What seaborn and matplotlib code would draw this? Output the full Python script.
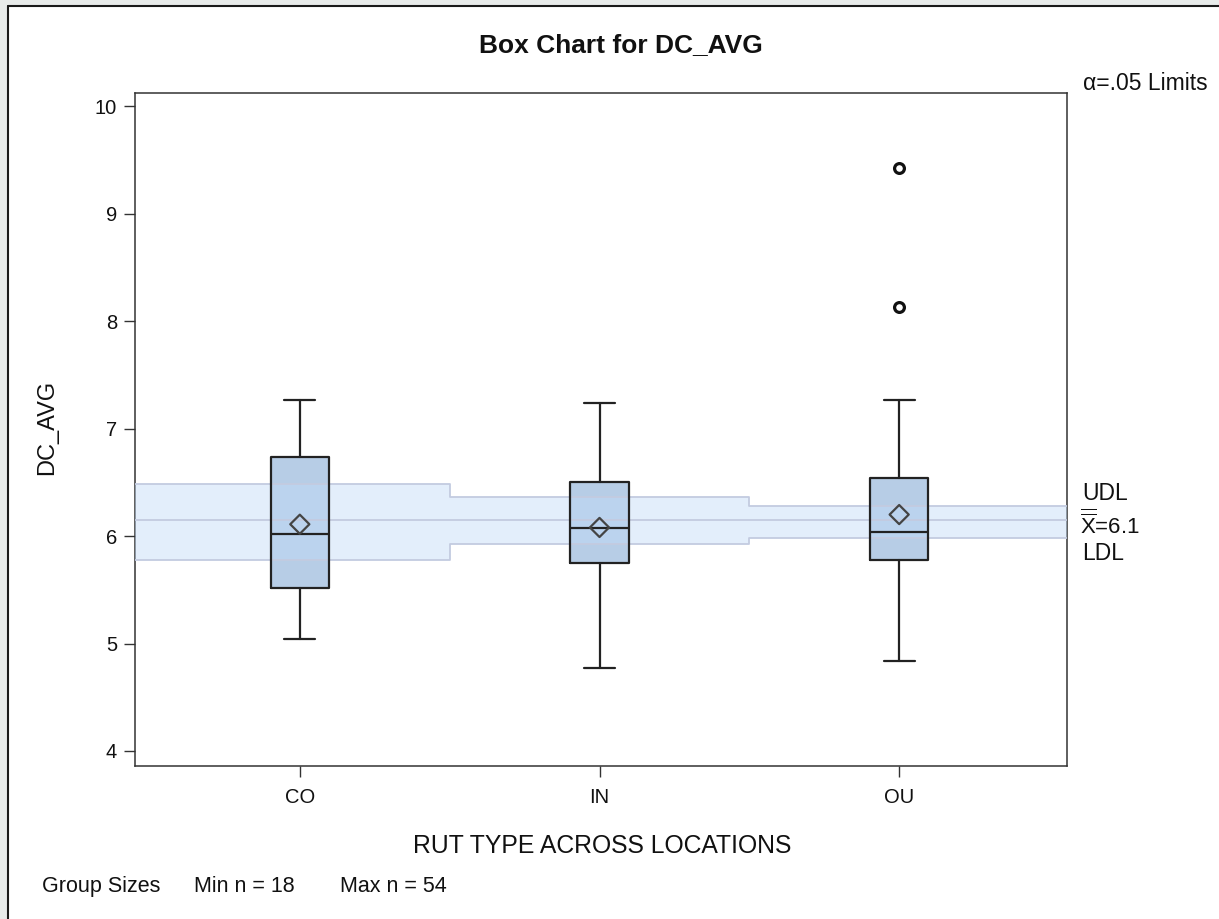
import numpy as np
import matplotlib
matplotlib.use("Agg")
import matplotlib.pyplot as plt
import seaborn as sns
from matplotlib.patches import Rectangle
from matplotlib.lines import Line2D

# ---------------- data ----------------
categories = ["CO", "IN", "OU"]
q1 = [5.52, 5.75, 5.78]
medians = [6.02, 6.075, 6.035]
q3 = [6.74, 6.50, 6.54]
whisker_low = [5.04, 4.77, 4.84]
whisker_high = [7.27, 7.24, 7.27]
means = [6.11, 6.08, 6.20]
outlier_group = [2, 2]          # index into categories (OU)
outlier_values = [9.43, 8.13]
center_line = 6.145
udl = [6.48, 6.36, 6.28]
ldl = [5.78, 5.93, 5.985]
yticks = [4, 5, 6, 7, 8, 9, 10]
min_n, max_n = 18, 54

# ---------------- style ----------------
sns.set_theme(style="white")
plt.rcParams["font.family"] = ["Liberation Sans", "DejaVu Sans"]
plt.rcParams["mathtext.fontset"] = "custom"
plt.rcParams["mathtext.rm"] = "Liberation Sans"
plt.rcParams["mathtext.it"] = "Liberation Sans"
plt.rcParams["mathtext.bf"] = "Liberation Sans:bold"

W, H = 1219, 919
fig = plt.figure(figsize=(W / 100, H / 100), dpi=100)
fig.patch.set_facecolor("white")

def fx(px):
    return px / W

def fy(py):
    return 1 - py / H

# window-like border (left / top)
fig.add_artist(Rectangle((0, 0), fx(7), 1, transform=fig.transFigure, color="#e8ebea", lw=0, zorder=0))
fig.add_artist(Rectangle((0, fy(5)), 1, 5 / H, transform=fig.transFigure, color="#e8ebea", lw=0, zorder=0))
fig.add_artist(Line2D([fx(8), fx(8)], [0, fy(6)], transform=fig.transFigure, color="#1a1a1a", lw=1.5))
fig.add_artist(Line2D([fx(8), 1], [fy(6), fy(6)], transform=fig.transFigure, color="#1a1a1a", lw=1.5))

ax_l, ax_r, ax_t, ax_b = 135, 1067, 92.5, 766
ax = fig.add_axes([fx(ax_l), fy(ax_b), (ax_r - ax_l) / W, (ax_b - ax_t) / H])

pos = np.arange(len(categories))
x_lo, x_hi = -0.55, 2.56
ax.set_xlim(x_lo, x_hi)
ax.set_ylim(3.86, 10.128)

stats = [dict(med=m, q1=a, q3=b, whislo=lo, whishi=hi, fliers=[], label=c)
         for c, m, a, b, lo, hi in zip(categories, medians, q1, q3, whisker_low, whisker_high)]

# box fill (below band)
ax.bxp(stats, positions=pos, widths=0.194, capwidths=0.104, patch_artist=True,
       showfliers=False, showcaps=False,
       boxprops=dict(facecolor="#b7cde6", edgecolor="none", linewidth=0),
       whiskerprops=dict(linewidth=0), medianprops=dict(linewidth=0),
       manage_ticks=False, zorder=2)

# decision limit band
x_band = np.concatenate([[x_lo], pos, [x_hi]])
udl_ext = [udl[0]] + udl + [udl[-1]]
ldl_ext = [ldl[0]] + ldl + [ldl[-1]]
ax.fill_between(x_band, ldl_ext, udl_ext, step="mid", color="#c1dbf8", alpha=0.45, lw=0, zorder=3)
ax.step(x_band, udl_ext, where="mid", color="#c3cbe0", lw=1.3, zorder=3)
ax.step(x_band, ldl_ext, where="mid", color="#c3cbe0", lw=1.3, zorder=3)
ax.axhline(center_line, color="#c3cbe0", lw=1.3, zorder=3)

# box outlines, whiskers, medians (above band)
lc = "#222222"
ax.bxp(stats, positions=pos, widths=0.194, capwidths=0.104, patch_artist=False,
       showfliers=False,
       boxprops=dict(color=lc, linewidth=1.6),
       whiskerprops=dict(color=lc, linewidth=1.6),
       capprops=dict(color=lc, linewidth=1.6),
       medianprops=dict(color=lc, linewidth=1.6),
       manage_ticks=False, zorder=4)

# means (diamonds)
sns.scatterplot(x=pos, y=means, marker="D", s=95, ax=ax, zorder=5, legend=False)
ax.collections[-1].set_facecolor("none")
ax.collections[-1].set_edgecolor("#444444")
ax.collections[-1].set_linewidth(1.6)

# outliers
sns.scatterplot(x=outlier_group, y=outlier_values, marker="o", s=50, ax=ax, zorder=5, legend=False)
ax.collections[-1].set_facecolor("white")
ax.collections[-1].set_edgecolor("#111111")
ax.collections[-1].set_linewidth(2.3)

# axes styling
ax.set_xticks(pos)
ax.set_xticklabels(categories)
ax.set_yticks(yticks)
ax.set_yticklabels([str(v) for v in yticks])
ax.set_xlabel("")
ax.set_ylabel("")
for s in ax.spines.values():
    s.set_color("#333333")
    s.set_linewidth(1.1)
ax.tick_params(axis="both", which="major", bottom=True, left=True, top=False, right=False,
               direction="out", length=8, width=1.0, color="#333333",
               labelsize=14.5, labelcolor="#111111")
ax.tick_params(axis="x", pad=8)
ax.tick_params(axis="y", pad=5)
ax.grid(False)

# texts
tc = "#111111"
fig.text(fx(621), fy(45), "Box Chart for DC_AVG", ha="center", va="center",
         fontsize=19, fontweight="bold", color=tc)
fig.text(fx(47), fy(427), "DC_AVG", rotation=90, ha="center", va="center", fontsize=17, color=tc)
fig.text(fx(602), fy(846), "RUT TYPE ACROSS LOCATIONS", ha="center", va="center", fontsize=17.8, color=tc)
fig.text(fx(42), fy(892), "Group Sizes", ha="left", va="baseline", fontsize=15.5, color=tc)
fig.text(fx(194), fy(892), f"Min n = {min_n}", ha="left", va="baseline", fontsize=15.5, color=tc)
fig.text(fx(340), fy(892), f"Max n = {max_n}", ha="left", va="baseline", fontsize=15.5, color=tc)
fig.text(fx(1083), fy(83), "α=.05 Limits", ha="left", va="center", fontsize=16.5, color=tc)
fig.text(fx(1082), fy(494), "UDL", ha="left", va="center", fontsize=16.5, color=tc)
fig.text(fx(1080), fy(524), r"$\overline{\overline{\mathrm{X}}}$=6.1", ha="left", va="center",
         fontsize=16, color=tc)
fig.text(fx(1082), fy(553), "LDL", ha="left", va="center", fontsize=16.5, color=tc)

fig.savefig("out.png", dpi=100)
